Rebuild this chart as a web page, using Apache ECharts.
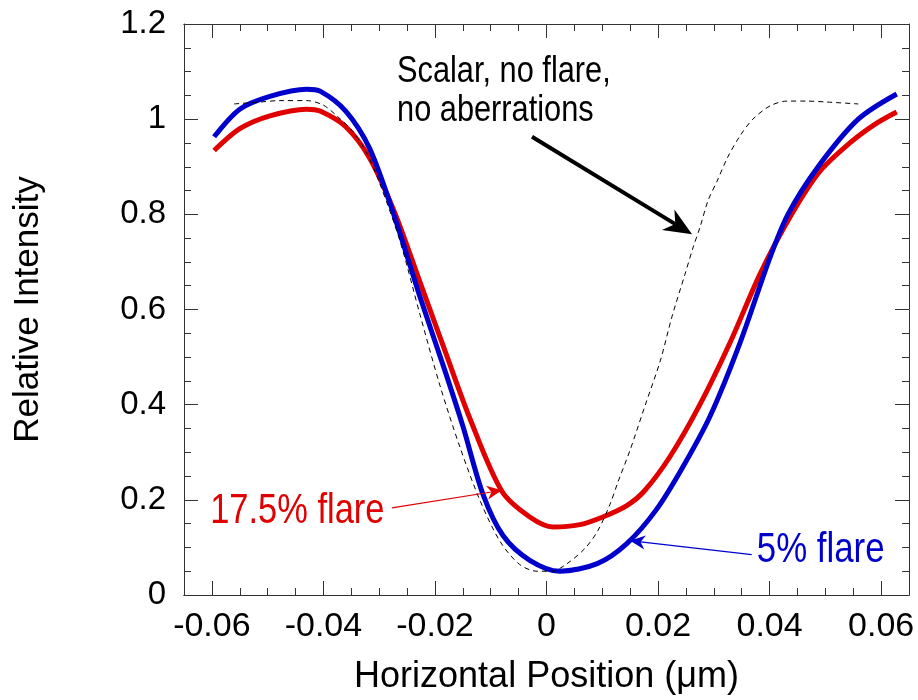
<!DOCTYPE html>
<html>
<head>
<meta charset="utf-8">
<script src="https://cdn.jsdelivr.net/npm/echarts@6/dist/echarts.min.js"></script>
<style>
  html, body { margin: 0; padding: 0; background: #fff; }
  #chart { width: 918px; height: 700px; }
</style>
</head>
<body>
<div id="chart"></div>
<script>
// Aerial image intensity across a line edge: two flare levels and the ideal scalar case
const xFlare5 = [-0.0596, -0.055, -0.0496, -0.043, -0.0406, -0.036, -0.0317, -0.0272, -0.0227, -0.0182,
  -0.0150, -0.0114, -0.0078, -0.0030, 0.0024, 0.0091, 0.0144, 0.0198, 0.0245, 0.0293,
  0.0347, 0.0401, 0.0433, 0.0487, 0.0559, 0.0628];
const yFlare5 = [0.963, 1.021, 1.048, 1.063, 1.059, 1.017, 0.938, 0.793, 0.627, 0.471,
  0.355, 0.212, 0.125, 0.073, 0.050, 0.066, 0.108, 0.181, 0.27, 0.375,
  0.53, 0.71, 0.80, 0.90, 1.0, 1.053];

const xFlare175 = [-0.0596, -0.055, -0.0496, -0.043, -0.0406, -0.036, -0.0317, -0.0272, -0.0227, -0.0182,
  -0.0137, -0.0080, -0.0030, 0.0012, 0.0060, 0.0101, 0.0144, 0.0175, 0.0221, 0.0275,
  0.0329, 0.0383, 0.0437, 0.0490, 0.0544, 0.0590, 0.0628];
const yFlare175 = [0.934, 0.98, 1.007, 1.021, 1.017, 0.984, 0.918, 0.803, 0.658, 0.513,
  0.37, 0.218, 0.164, 0.143, 0.148, 0.164, 0.188, 0.218, 0.29, 0.40,
  0.53, 0.675, 0.795, 0.89, 0.95, 0.99, 1.015];

const xScalar = [-0.0560, -0.0514, -0.0478, -0.0430, -0.0401, -0.0376, -0.0347, -0.0322, -0.0299, -0.0263,
  -0.0227, -0.0191, -0.0155, -0.0119, -0.0083, -0.0048, -0.0017, 0.0010, 0.0037, 0.0069,
  0.0092, 0.0114, 0.0128, 0.0150, 0.0177, 0.0204, 0.0225, 0.0248, 0.0263, 0.0275,
  0.0290, 0.0306, 0.0324, 0.0347, 0.0370, 0.0401, 0.0431, 0.0467, 0.0503, 0.0559];
const yScalar = [1.032, 1.036, 1.039, 1.039, 1.030, 1.007, 0.974, 0.928, 0.865, 0.745,
  0.59, 0.44, 0.31, 0.198, 0.112, 0.064, 0.050, 0.050, 0.066, 0.098,
  0.135, 0.191, 0.237, 0.305, 0.399, 0.492, 0.585, 0.673, 0.731, 0.772,
  0.83, 0.87, 0.918, 0.965, 1.0, 1.028, 1.038, 1.038, 1.036, 1.032];

const xTickLabels = [-0.06, -0.04, -0.02, 0, 0.02, 0.04, 0.06];
const xMinorTicks = [-0.065, -0.055, -0.05, -0.045, -0.035, -0.03, -0.025, -0.015, -0.01, -0.005,
  0.005, 0.01, 0.015, 0.025, 0.03, 0.035, 0.045, 0.05, 0.055, 0.065];

const zip = (xs, ys) => xs.map((x, i) => [x, ys[i]]);

const SANS = "'Liberation Sans', Arial, sans-serif";
const FRAME = '#333';
const BLUE = '#0000cc';
const RED = '#e00000';

const chart = echarts.init(document.getElementById('chart'), null, { renderer: 'canvas' });

function xAxisDef(pos, values, len, withLabels) {
  return {
    type: 'value', position: pos, min: -0.065, max: 0.065,
    axisLine: { show: true, onZero: false, lineStyle: { color: FRAME, width: 1 } },
    axisTick: { show: true, inside: true, length: len, customValues: values, lineStyle: { color: FRAME } },
    axisLabel: withLabels ? {
      show: true, customValues: xTickLabels, margin: 15,
      fontFamily: SANS, fontSize: 34, color: '#000',
      formatter: v => String(+(+v).toFixed(2))
    } : { show: false },
    splitLine: { show: false },
    name: withLabels ? 'Horizontal Position (\u03bcm)' : '',
    nameLocation: 'middle', nameGap: 64,
    nameTextStyle: { fontFamily: SANS, fontSize: 36, color: '#000' }
  };
}

function yAxisDef(pos, withLabels) {
  return {
    type: 'value', position: pos, min: 0, max: 1.2, interval: 0.2,
    axisLine: { show: true, onZero: false, lineStyle: { color: FRAME, width: 1 } },
    axisTick: { show: true, inside: true, length: 14, lineStyle: { color: FRAME } },
    minorTick: { show: true, splitNumber: 4, length: 7, lineStyle: { color: FRAME } },
    axisLabel: withLabels ? { show: true, margin: 18, fontFamily: SANS, fontSize: 33, color: '#000' } : { show: false },
    splitLine: { show: false },
    minorSplitLine: { show: false },
    name: withLabels ? 'Relative Intensity' : '',
    nameLocation: 'middle', nameGap: 138, nameRotate: 90,
    nameTextStyle: { fontFamily: SANS, fontSize: 35, color: '#000' }
  };
}

chart.setOption({
  animation: false,
  backgroundColor: '#fff',
  grid: { left: 184, right: 9, top: 24, bottom: 98, containLabel: false },
  xAxis: [
    xAxisDef('bottom', xTickLabels, 14, true),
    xAxisDef('bottom', xMinorTicks, 7, false),
    xAxisDef('top', xTickLabels, 14, false),
    xAxisDef('top', xMinorTicks, 7, false)
  ],
  yAxis: [
    yAxisDef('left', true),
    yAxisDef('right', false)
  ],
  series: [
    {
      name: '17.5% flare', type: 'line', xAxisIndex: 0, yAxisIndex: 0,
      data: zip(xFlare175, yFlare175), showSymbol: false, smooth: 0.3,
      lineStyle: { color: RED, width: 5 }, z: 3
    },
    {
      name: '5% flare', type: 'line', xAxisIndex: 0, yAxisIndex: 0,
      data: zip(xFlare5, yFlare5), showSymbol: false, smooth: 0.3,
      lineStyle: { color: BLUE, width: 5 }, z: 4
    },
    {
      name: 'Scalar', type: 'line', xAxisIndex: 0, yAxisIndex: 0,
      data: zip(xScalar, yScalar), showSymbol: false, smooth: 0.3,
      lineStyle: { color: '#000', width: 1, type: [5, 4] }, z: 5
    }
  ]
});

// Annotation anchors in data units; text is drawn condensed horizontally
const notes = [
  { lines: ['Scalar, no flare,', 'no aberrations'], at: [-0.0268, 1.100], step: -0.083, color: '#000', size: 37.5 },
  { lines: ['17.5% flare'], at: [-0.0603, 0.176], step: 0, color: RED, size: 42 },
  { lines: ['5% flare'], at: [0.0377, 0.093], step: 0, color: BLUE, size: 42.5 }
];
const arrows = [
  { from: [-0.0026, 0.963], to: [0.0261, 0.758], color: '#000', width: 4, head: 28, half: 12 },
  { from: [-0.0277, 0.183], to: [-0.0080, 0.220], color: RED, width: 1.2, head: 15, half: 7 },
  { from: [0.0368, 0.085], to: [0.0150, 0.114], color: BLUE, width: 1.2, head: 15, half: 7 }
];

const toPx = p => chart.convertToPixel({ xAxisIndex: 0, yAxisIndex: 0 }, p);
const elements = [];

notes.forEach(n => {
  n.lines.forEach((t, i) => {
    const p = toPx([n.at[0], n.at[1] + n.step * i]);
    elements.push({
      type: 'text', z: 100, x: p[0], y: p[1], scaleX: 0.82, scaleY: 1,
      style: { text: t, x: 0, y: 0, fill: n.color, font: n.size + 'px ' + SANS, align: 'left', verticalAlign: 'middle' }
    });
  });
});

arrows.forEach(a => {
  const s = toPx(a.from), e = toPx(a.to);
  const dx = e[0] - s[0], dy = e[1] - s[1];
  const L = Math.hypot(dx, dy), ux = dx / L, uy = dy / L;
  const nx = -uy, ny = ux;
  const bx = e[0] - ux * a.head, by = e[1] - uy * a.head;
  const notchX = e[0] - ux * a.head * 0.7, notchY = e[1] - uy * a.head * 0.7;
  elements.push({
    type: 'line', z: 100,
    shape: { x1: s[0], y1: s[1], x2: notchX, y2: notchY },
    style: { stroke: a.color, lineWidth: a.width }
  });
  elements.push({
    type: 'polygon', z: 101,
    shape: { points: [[e[0], e[1]], [bx + nx * a.half, by + ny * a.half], [notchX, notchY], [bx - nx * a.half, by - ny * a.half]] },
    style: { fill: a.color }
  });
});

chart.setOption({ graphic: elements });
</script>
</body>
</html>
